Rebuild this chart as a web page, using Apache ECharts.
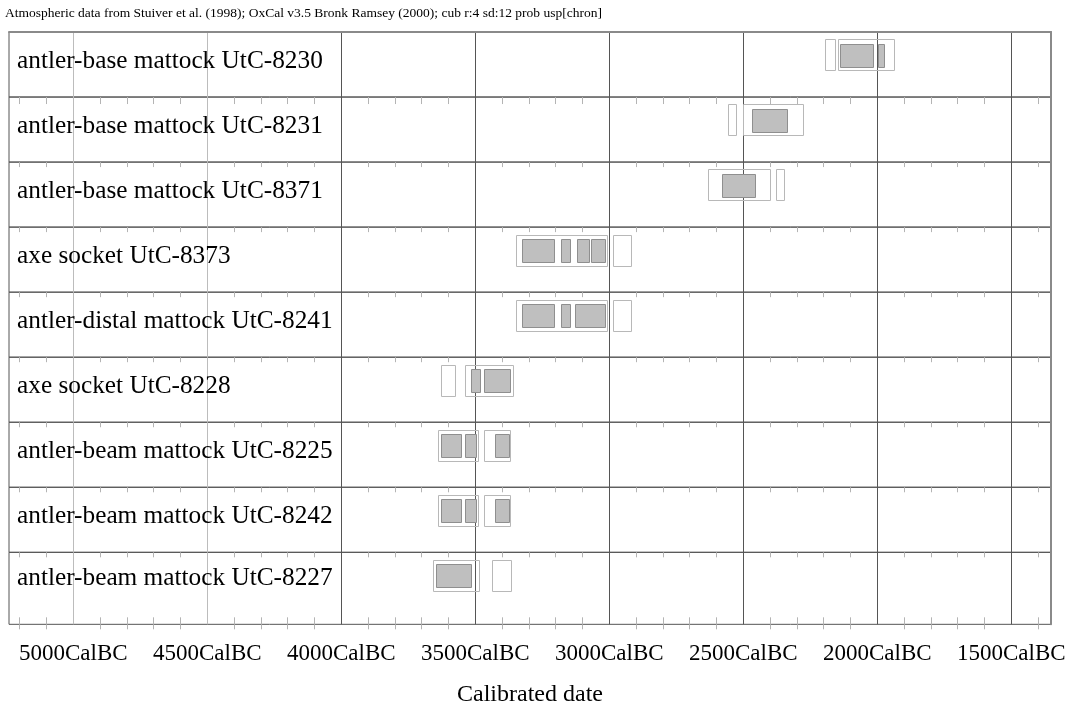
<!DOCTYPE html>
<html>
<head>
<meta charset="utf-8">
<script src="https://cdn.jsdelivr.net/npm/echarts@6/dist/echarts.min.js"></script>
<style>
html,body{margin:0;padding:0;background:#fff;}
#chart{width:1071px;height:704px;}
</style>
</head>
<body>
<div id="chart"></div>
<script>
// ---------------- data ----------------
const headerText = 'Atmospheric data from Stuiver et al. (1998); OxCal v3.5 Bronk Ramsey (2000); cub r:4 sd:12 prob usp[chron]';
const axisTitle = 'Calibrated date';
const rowLabels = [
  'antler-base mattock UtC-8230',
  'antler-base mattock UtC-8231',
  'antler-base mattock UtC-8371',
  'axe socket UtC-8373',
  'antler-distal mattock UtC-8241',
  'axe socket UtC-8228',
  'antler-beam mattock UtC-8225',
  'antler-beam mattock UtC-8242',
  'antler-beam mattock UtC-8227'
];
// 95.4% ranges (outer boxes), years cal BC [from, to]
const outerRanges = [
  [[2196, 2157], [2148, 1940]],
  [[2556, 2528], [2500, 2275]],
  [[2631, 2398], [2377, 2347]],
  [[3347, 3006], [2987, 2918]],
  [[3347, 3006], [2987, 2918]],
  [[3629, 3578], [3538, 3358]],
  [[3638, 3487], [3466, 3369]],
  [[3638, 3487], [3466, 3369]],
  [[3657, 3487], [3439, 3369]]
];
// 68.2% ranges (inner filled boxes), years cal BC [from, to]
const innerRanges = [
  [[2139, 2017], [1999, 1976]],
  [[2466, 2337]],
  [[2578, 2456]],
  [[3327, 3206], [3179, 3147], [3119, 3076], [3068, 3017]],
  [[3327, 3206], [3179, 3147], [3129, 3017]],
  [[3517, 3485], [3466, 3368]],
  [[3628, 3555], [3538, 3496], [3428, 3375]],
  [[3628, 3555], [3538, 3496], [3428, 3375]],
  [[3647, 3517]]
];
const majorTicks = [5000, 4500, 4000, 3500, 3000, 2500, 2000, 1500];
const lightMajorTicks = [5000, 4500];
const darkMajorTicks = [4000, 3500, 3000, 2500, 2000, 1500];
const minorTicks = [5200, 5100, 4900, 4800, 4700, 4600, 4400, 4300, 4200, 4100,
  3900, 3800, 3700, 3600, 3400, 3300, 3200, 3100, 2900, 2800, 2700,
  2600, 2400, 2300, 2200, 2100, 1900, 1800, 1700, 1600, 1400];
const xMin = 1352, xMax = 5240;

// ---------------- layout / style ----------------
const FONT = 'Liberation Serif';
const TOP = 32, ROW_H = 65.04, LAST_H = 72;
const LEFT = 9, RIGHT = 20;

const grids = [], xAxes = [], yAxes = [], series = [];
const nRows = rowLabels.length;

function baseX(i, extra) {
  return Object.assign({
    gridIndex: i, type: 'value', min: xMin, max: xMax, inverse: true,
    position: 'top',
    axisLine: {show: false},
    axisTick: {show: false},
    axisLabel: {show: false},
    splitLine: {show: false}
  }, extra);
}

for (let i = 0; i < nRows; i++) {
  const last = i === nRows - 1;
  const h = last ? LAST_H : ROW_H;
  grids.push({
    left: LEFT, right: RIGHT, top: TOP + i * ROW_H, height: h,
    containLabel: false, outerBoundsMode: 'none',
    show: true, borderColor: '#555', borderWidth: 1, backgroundColor: 'transparent'
  });
  // minor ticks hanging from row top
  const minorIdx = xAxes.length;
  xAxes.push(baseX(i, {
    axisTick: {show: true, inside: true, length: i === 0 ? 7 : 5, customValues: minorTicks,
      lineStyle: {color: '#b4b4b4', width: 1}},
    axisLabel: {show: false, customValues: minorTicks}
  }));
  // light major grid lines
  xAxes.push(baseX(i, {
    axisTick: {show: false, customValues: lightMajorTicks},
    axisLabel: {show: false, customValues: lightMajorTicks},
    splitLine: {show: true, lineStyle: {color: '#bcbcbc', width: 1}}
  }));
  // dark major grid lines
  xAxes.push(baseX(i, {
    axisTick: {show: false, customValues: darkMajorTicks},
    axisLabel: {show: false, customValues: darkMajorTicks},
    splitLine: {show: true, lineStyle: {color: '#555', width: 1}}
  }));
  if (i === 0) {
    // thick grey top frame
    xAxes.push(baseX(i, {axisLine: {show: true, lineStyle: {color: '#8a8a8a', width: 2}}}));
  }
  if (last) {
    xAxes.push(baseX(i, {
      position: 'bottom',
      axisLine: {show: false},
      axisTick: {show: true, inside: true, length: 7, customValues: minorTicks,
        lineStyle: {color: '#b4b4b4', width: 1}},
      axisLabel: {show: true, customValues: majorTicks, margin: 18,
        formatter: v => v + 'CalBC', fontFamily: FONT, fontSize: 23, color: '#000'},
      name: axisTitle, nameLocation: 'middle', nameGap: 58,
      nameTextStyle: {fontFamily: FONT, fontSize: 24, color: '#000'}
    }));
  }
  const yIdx = yAxes.length;
  yAxes.push({
    gridIndex: i, type: 'category', data: [rowLabels[i]],
    axisLine: {show: false}, axisTick: {show: false}, splitLine: {show: false},
    axisLabel: {inside: true, margin: 8, fontFamily: FONT, fontSize: 25.3, color: '#000',
      verticalAlign: 'bottom', lineHeight: last ? 19 : 7}
  });
  // thick grey right frame
  yAxes.push({
    gridIndex: i, type: 'value', position: 'right', min: 0, max: 1,
    axisLine: {show: true, lineStyle: {color: '#8a8a8a', width: 2}},
    axisTick: {show: false}, axisLabel: {show: false}, splitLine: {show: false}
  });

  const data = [];
  outerRanges[i].forEach(r => data.push([r[0], r[1], 0]));
  innerRanges[i].forEach(r => data.push([r[0], r[1], 1]));
  series.push({
    type: 'custom',
    xAxisIndex: minorIdx,
    yAxisIndex: yIdx,
    data: data,
    encode: {x: [0, 1]},
    clip: false,
    z: 5,
    renderItem: function (params, api) {
      const cs = params.coordSys;
      const xa = api.coord([api.value(0), 0])[0];
      const xb = api.coord([api.value(1), 0])[0];
      const x = Math.min(xa, xb), w = Math.abs(xb - xa);
      const kind = api.value(2);
      if (kind === 0) {
        return {
          type: 'rect',
          shape: {x: Math.round(x) + 0.5, y: Math.round(cs.y + 7.4) + 0.5, width: Math.round(w), height: 31},
          style: {fill: 'none', stroke: '#b8b8b8', lineWidth: 1}
        };
      }
      return {
        type: 'rect',
        shape: {x: Math.round(x) + 0.5, y: Math.round(cs.y + 11.5) + 0.5, width: Math.round(w), height: 23},
        style: {fill: '#bfbfbf', stroke: '#8f8f8f', lineWidth: 1}
      };
    }
  });
}

const chart = echarts.init(document.getElementById('chart'), null, {renderer: 'canvas'});
chart.setOption({
  animation: false,
  backgroundColor: '#fff',
  title: {
    text: headerText, left: 0, top: 1,
    textStyle: {fontFamily: FONT, fontSize: 13.5, fontWeight: 'normal', color: '#000'}
  },
  grid: grids,
  xAxis: xAxes,
  yAxis: yAxes,
  series: series
});
</script>
</body>
</html>
